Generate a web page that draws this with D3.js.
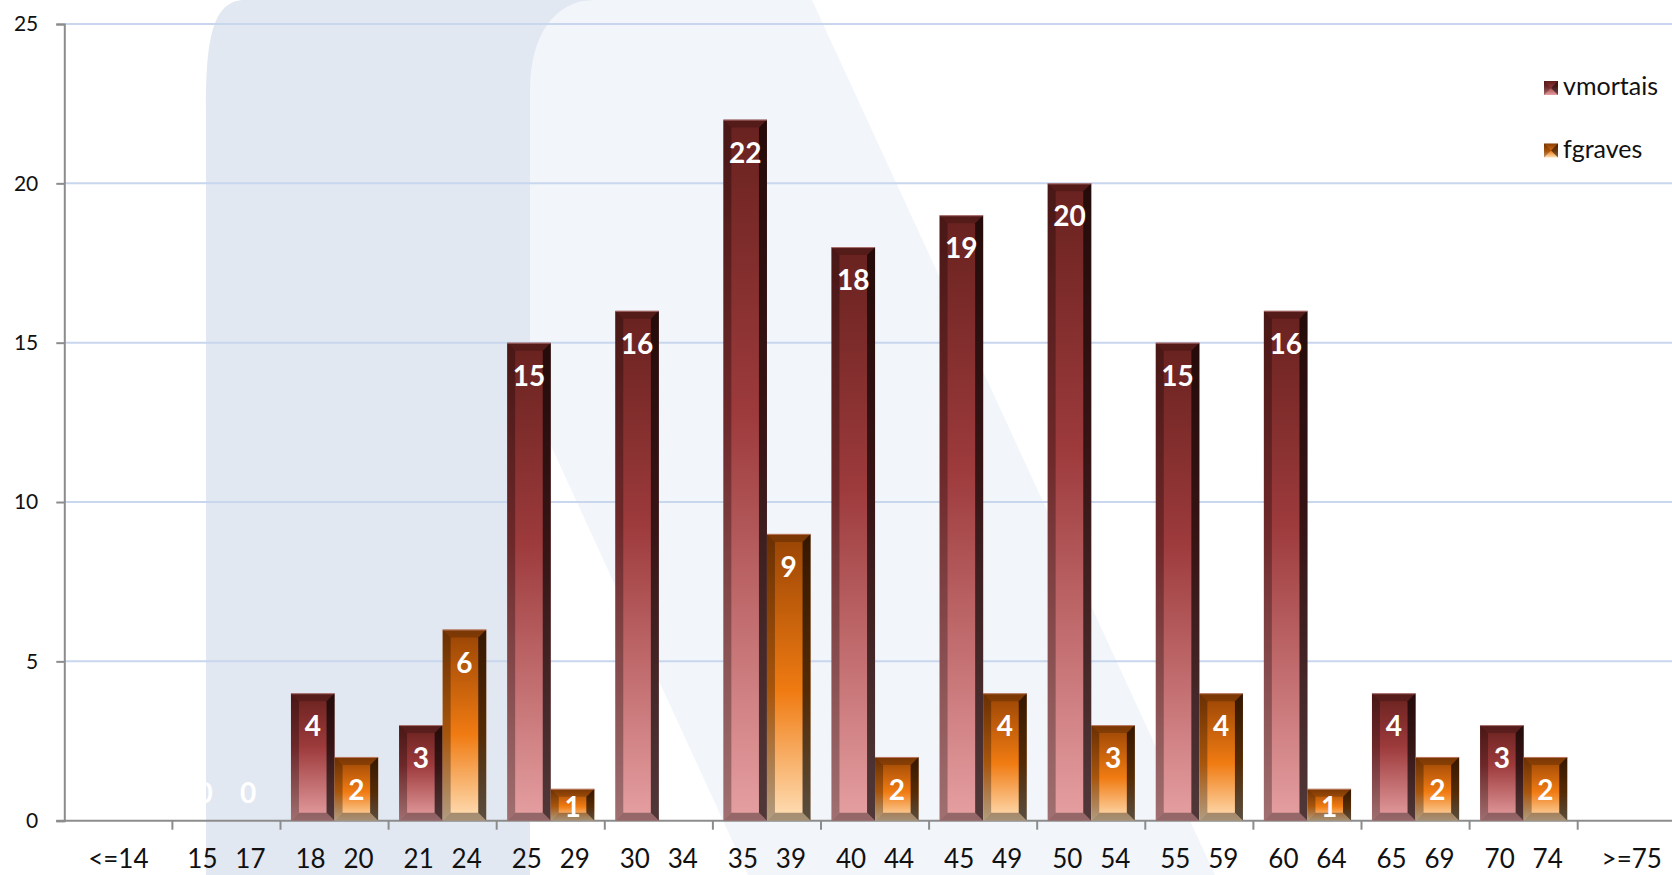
<!DOCTYPE html>
<html>
<head>
<meta charset="utf-8">
<script src="https://cdn.jsdelivr.net/npm/d3@7"></script>
<style>
html, body { margin: 0; padding: 0; background: #fff; }
svg { display: block; font-family: Lato, "Noto Sans", sans-serif; }
</style>
</head>
<body>
<svg id="chart" width="1672" height="875"></svg>
<script>
// chart data
const categories = ["<=14", "15 17", "18 20", "21 24", "25 29", "30 34", "35 39", "40 44",
                    "45 49", "50 54", "55 59", "60 64", "65 69", "70 74", ">=75"];
const vmortais = [0, 0, 4, 3, 15, 16, 22, 18, 19, 20, 15, 16, 4, 3, 0];
const fgraves  = [0, 0, 2, 6, 1, 0, 9, 2, 4, 3, 4, 1, 2, 2, 0];
const seriesNames = ["vmortais", "fgraves"];
const yTicks = [0, 5, 10, 15, 20, 25];

const svg = d3.select("#chart");
const W = 1672, H = 875;
const plotLeft = 64.3, plotTop = 24, base = 820.7, step = 108.1;

const x = d3.scaleBand().domain(categories).range([plotLeft, plotLeft + step * categories.length]);
const x1 = d3.scaleBand().domain(seriesNames).range([0, x.bandwidth()]).paddingOuter(0.24);
const y = d3.scaleLinear().domain([0, 25]).range([base, plotTop]);

// gradients for the two series
const defs = svg.append("defs");
const grads = {
    vmortais: [["0%", "#68221f"], ["42%", "#9d3a3c"], ["100%", "#e6a0a2"]],
    fgraves:  [["0%", "#984405"], ["55%", "#f07b12"], ["100%", "#ffe0b8"]]
};
Object.keys(grads).forEach(k => {
    const g = defs.append("linearGradient").attr("id", "g-" + k)
        .attr("x1", 0).attr("y1", 0).attr("x2", 0).attr("y2", 1);
    grads[k].forEach(s => g.append("stop").attr("offset", s[0]).attr("stop-color", s[1]));
});

// watermark in the background
const bg = svg.append("g");
bg.append("path")
    .attr("d", "M206,875 L206,110 C206,40 212,0 245,0 L600,0 L600,200 L530,200 L530,875 Z")
    .attr("fill", "#e2e8f1");
bg.append("path")
    .attr("d", "M530,400 L530,90 C530,35 555,0 595,0 L812,0 L1215,875 L748,875 Z")
    .attr("fill", "#f2f5fa");

// gridlines
svg.append("g")
    .selectAll("line")
    .data(yTicks.filter(d => d > 0))
    .enter()
    .append("line")
    .attr("x1", plotLeft).attr("x2", W)
    .attr("y1", d => y(d)).attr("y2", d => y(d))
    .attr("stroke", "#c8d6ee")
    .attr("stroke-width", 2);

// y axis
const yAxis = svg.append("g")
    .attr("transform", `translate(${plotLeft},0)`)
    .call(d3.axisLeft(y).tickValues(yTicks).tickSize(8).tickPadding(18));
yAxis.select(".domain").attr("stroke", "#8c8c8c").attr("stroke-width", 2);
yAxis.selectAll(".tick line").attr("stroke", "#8c8c8c").attr("stroke-width", 2);
yAxis.selectAll(".tick text").attr("font-size", 21).attr("fill", "#111")
    .attr("font-family", "Lato, 'Noto Sans', sans-serif");

// x axis: labels centered, ticks on category edges
const xAxis = svg.append("g")
    .attr("transform", `translate(0,${base})`)
    .call(d3.axisBottom(x).tickSize(0).tickPadding(29));
xAxis.select(".domain").remove();
xAxis.selectAll(".tick text")
    .attr("font-size", 26).attr("fill", "#111")
    .attr("font-family", "Lato, 'Noto Sans', sans-serif")
    .each(function(d) {
        const parts = d.split(" ");
        if (parts.length < 2) return;
        const t = d3.select(this).text("");
        t.append("tspan").attr("x", -24).text(parts[0]);
        t.append("tspan").attr("x", 24).text(parts[1]);
    });

svg.append("line")
    .attr("x1", plotLeft - 8).attr("x2", W)
    .attr("y1", base).attr("y2", base)
    .attr("stroke", "#8c8c8c").attr("stroke-width", 2);
svg.append("g")
    .selectAll("line")
    .data(categories.slice(1))
    .enter()
    .append("line")
    .attr("x1", d => x(d)).attr("x2", d => x(d))
    .attr("y1", base).attr("y2", base + 9)
    .attr("stroke", "#8c8c8c").attr("stroke-width", 2);

// bars
const rows = categories.map((c, i) => ({ cat: c, values: [
    { key: "vmortais", value: vmortais[i] },
    { key: "fgraves", value: fgraves[i] }
]}));

const groups = svg.append("g")
    .selectAll("g")
    .data(rows)
    .enter()
    .append("g")
    .attr("transform", d => `translate(${x(d.cat)},0)`);

const bars = groups.selectAll("g.bar")
    .data(d => d.values)
    .enter()
    .append("g")
    .attr("class", "bar");

bars.each(function(d) {
    if (d.value <= 0) return;
    const g = d3.select(this);
    const bx = x1(d.key), w = x1.bandwidth();
    const by = y(d.value), h = base - by;
    const b = Math.min(8, h / 2);
    g.append("rect")
        .attr("x", bx).attr("y", by).attr("width", w).attr("height", h)
        .attr("fill", `url(#g-${d.key})`);
    const poly = (pts, fill) => g.append("polygon")
        .attr("points", pts.map(p => p.join(",")).join(" "))
        .attr("fill", fill);
    poly([[bx, by], [bx + w, by], [bx + w - b, by + b], [bx + b, by + b]], "rgba(0,0,0,0.2)");
    poly([[bx, by], [bx + b, by + b], [bx + b, base - b], [bx, base]], "rgba(0,0,0,0.3)");
    poly([[bx + w, by], [bx + w - b, by + b], [bx + w - b, base - b], [bx + w, base]], "rgba(0,0,0,0.65)");
    poly([[bx, base], [bx + b, base - b], [bx + w - b, base - b], [bx + w, base]], "rgba(0,0,0,0.35)");
    g.append("line")
        .attr("x1", bx).attr("x2", bx + w).attr("y1", by + 0.5).attr("y2", by + 0.5)
        .attr("stroke", "rgba(255,190,190,0.5)").attr("stroke-width", 1);
});

// value labels
bars.append("text")
    .attr("x", d => x1(d.key) + x1.bandwidth() / 2)
    .attr("y", d => d.value === 0 ? base - 28 : Math.min(y(d.value) + 33, base - 14))
    .attr("dy", "0.36em")
    .attr("text-anchor", "middle")
    .attr("font-size", 28)
    .attr("font-weight", "bold")
    .attr("fill", "#fff")
    .text(d => d.value);

// legend
const legend = svg.append("g")
    .selectAll("g")
    .data(seriesNames)
    .enter()
    .append("g")
    .attr("transform", (d, i) => `translate(1544,${88 + i * 62.5})`);

legend.append("rect")
    .attr("x", 0).attr("y", -7).attr("width", 14).attr("height", 14)
    .attr("fill", d => `url(#g-${d})`);
legend.append("polygon")
    .attr("points", "0,-7 7,0 0,7")
    .attr("fill", "rgba(0,0,0,0.3)");
legend.append("polygon")
    .attr("points", "14,-7 7,0 14,7")
    .attr("fill", "rgba(0,0,0,0.55)");
legend.append("polygon")
    .attr("points", "0,-7 14,-7 7,0")
    .attr("fill", "rgba(0,0,0,0.1)");
legend.append("text")
    .attr("x", 19).attr("y", 7)
    .attr("font-size", 25)
    .attr("fill", "#111")
    .text(d => d);
</script>
</body>
</html>
